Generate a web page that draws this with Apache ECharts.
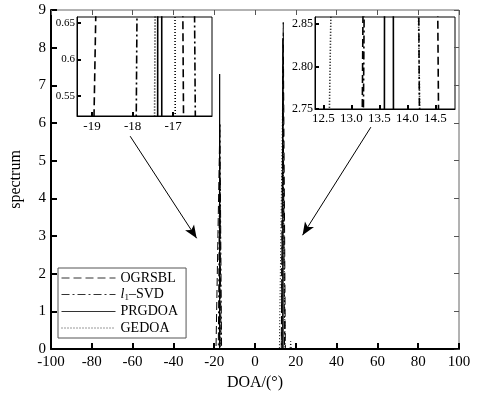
<!DOCTYPE html>
<html><head><meta charset="utf-8">
<script src="https://cdn.jsdelivr.net/npm/echarts@6/dist/echarts.min.js"></script>
<style>html,body{margin:0;padding:0;background:#fff}#c{width:478px;height:404px}</style>
</head><body><div id="c"></div>
<script>
// ---- data ----
const methods = ['OGRSBL', 'l1-SVD', 'PRGDOA', 'GEDOA'];
// DOA (deg) / spectrum value for each method (spikes near -17 and 13.7 degrees)
const ogrsblX = [-100, -19.115, -17.35, -16.68, 12.89, 13.85, 14.883, 100];
const ogrsblY = [0, 0, 5.6, 0, 0, 8.67, 0, 0];
const l1svdX  = [-100, -17.976, -17.2, -16.38, 12.905, 13.75, 14.483, 100];
const l1svdY  = [0, 0, 6.0, 0, 0, 7.5, 0, 0];
const prgdoaX = [-100, -17.384, -17.33, -17.275, 13.549, 13.67, 13.791, 100];
const prgdoaY = [0, 0, 7.3, 0, 0, 8.25, 0, 0];
const gedoaX  = [-100, -17.503, -17.1, -16.927, 11.953, 13.5, 14.747, 17.2, 17.5, 17.8, 100];
const gedoaY  = [0, 0, 4.5, 0, 0, 6.5, 0, 0, 0.2, 0, 0];
// axis ticks
const inset1XTicks = [-19, -18, -17];
const inset1YTicks = [0.55, 0.6, 0.65];
const inset2XTicks = [12.5, 13.0, 13.5, 14.0, 14.5];
const inset2YTicks = [2.75, 2.80, 2.85];
// annotation arrows (data coordinates of main plot): [from, to]
const arrowLeft  = [[-61.2, 5.65], [-28.6, 2.94]];
const arrowRight = [[56.8, 5.89], [23.3, 3.02]];

const xs = [ogrsblX, l1svdX, prgdoaX, gedoaX];
const ys = [ogrsblY, l1svdY, prgdoaY, gedoaY];
const dashes = [[8, 4], [8, 3, 2, 3], 'solid', [1, 2]];
const FONT = 'Liberation Serif';

function pts(i) { return xs[i].map((x, k) => [x, ys[i][k]]); }

const series = [];
for (let g = 0; g < 3; g++) {
  methods.forEach((m, i) => {
    const s = {
      name: m, type: 'line', xAxisIndex: g, yAxisIndex: g,
      data: pts(i), symbol: 'none', showSymbol: false, clip: true, silent: true,
      lineStyle: { color: '#000', width: g === 0 ? 1 : 1.6, type: dashes[i] },
      itemStyle: { color: '#000' }
    };
    if (g === 0 && i === 0) {
      s.markLine = {
        silent: true, symbol: ['none', 'arrow'], symbolSize: [8, 13],
        label: { show: false },
        lineStyle: { color: '#000', width: 1, type: 'solid' },
        data: [
          [{ coord: arrowLeft[0] }, { coord: arrowLeft[1] }],
          [{ coord: arrowRight[0] }, { coord: arrowRight[1] }]
        ]
      };
    }
    series.push(s);
  });
}

const axLine = (w, c) => ({ show: true, onZero: false, lineStyle: { color: c || '#000', width: w } });
const lbl = (size, extra) => Object.assign({ color: '#000', fontFamily: FONT, fontSize: size }, extra || {});

const option = {
  animation: false,
  grid: [
    { left: 47, top: 10, width: 412, height: 339, show: true, borderColor: '#666', borderWidth: 1 },
    { left: 77, top: 17, width: 135, height: 99, show: true, borderColor: '#000', borderWidth: 1, backgroundColor: '#fff' },
    { left: 315, top: 17, width: 140, height: 92, show: true, borderColor: '#000', borderWidth: 1, backgroundColor: '#fff' }
  ],
  xAxis: [
    { gridIndex: 0, type: 'value', min: -100, max: 100, interval: 20, position: 'bottom',
      axisLine: axLine(2), splitLine: { show: false },
      axisTick: { inside: true, length: 6, lineStyle: { width: 2, color: '#000' } },
      axisLabel: lbl(15, { margin: 6 }),
      name: 'DOA/(°)', nameLocation: 'middle', nameGap: 23,
      nameTextStyle: lbl(16) },
    { gridIndex: 1, type: 'value', min: -19.37, max: -16.04,
      axisLine: axLine(1), splitLine: { show: false },
      axisTick: { inside: true, length: 4, customValues: inset1XTicks, lineStyle: { width: 2, color: '#000' } },
      axisLabel: lbl(13, { margin: 4, customValues: inset1XTicks }) },
    { gridIndex: 2, type: 'value', min: 12.35, max: 14.85,
      axisLine: axLine(1), splitLine: { show: false },
      axisTick: { inside: true, length: 4, customValues: inset2XTicks, lineStyle: { width: 2, color: '#000' } },
      axisLabel: lbl(13, { margin: 3, customValues: inset2XTicks, formatter: v => v.toFixed(1) }) },
    { gridIndex: 0, type: 'value', min: -100, max: 100, interval: 20, position: 'top',
      axisLine: { show: false, onZero: false }, splitLine: { show: false }, axisLabel: { show: false },
      axisTick: { inside: true, length: 5, lineStyle: { width: 1, color: '#555' } } }
  ],
  yAxis: [
    { gridIndex: 0, type: 'value', min: 0, max: 9, interval: 1, position: 'left',
      axisLine: axLine(2), splitLine: { show: false },
      axisTick: { inside: true, length: 6, lineStyle: { width: 2, color: '#000' } },
      axisLabel: lbl(15, { margin: 5 }),
      name: 'spectrum', nameLocation: 'middle', nameGap: 27, nameRotate: 90,
      nameTextStyle: lbl(16) },
    { gridIndex: 1, type: 'value', min: 0.5226, max: 0.658,
      axisLine: axLine(1), splitLine: { show: false },
      axisTick: { inside: true, length: 4, customValues: inset1YTicks, lineStyle: { width: 2, color: '#000' } },
      axisLabel: lbl(11, { margin: 2, customValues: inset1YTicks, formatter: v => String(+v.toFixed(2)) }) },
    { gridIndex: 2, type: 'value', min: 2.75, max: 2.858,
      axisLine: axLine(1), splitLine: { show: false },
      axisTick: { inside: true, length: 4, customValues: inset2YTicks, lineStyle: { width: 2, color: '#000' } },
      axisLabel: lbl(12, { margin: 2, customValues: inset2YTicks, formatter: v => v.toFixed(2) }) },
    { gridIndex: 0, type: 'value', min: 0, max: 9, interval: 1, position: 'right',
      axisLine: { show: false, onZero: false }, splitLine: { show: false }, axisLabel: { show: false },
      axisTick: { inside: true, length: 5, lineStyle: { width: 1, color: '#555' } } }
  ],
  legend: {
    data: methods, orient: 'vertical', left: 58, top: 268,
    itemWidth: 54, itemHeight: 12, itemGap: 2.5,
    borderColor: '#555', borderWidth: 1, padding: [3, 8, 3, 3],
    backgroundColor: '#fff',
    itemStyle: { opacity: 0 },
    lineStyle: { width: 1, color: '#333' },
    formatter: n => n === 'l1-SVD' ? '{i|l}{s|1}–SVD' : n,
    textStyle: {
      color: '#000', fontFamily: FONT, fontSize: 14,
      rich: {
        i: { fontStyle: 'italic', fontFamily: FONT, fontSize: 14, color: '#000' },
        s: { fontFamily: FONT, fontSize: 9, color: '#000', padding: [6, 0, 0, 0] }
      }
    }
  },
  series: series
};
const chart = echarts.init(document.getElementById('c'), null, { renderer: 'canvas' });
chart.setOption(option);
</script></body></html>
